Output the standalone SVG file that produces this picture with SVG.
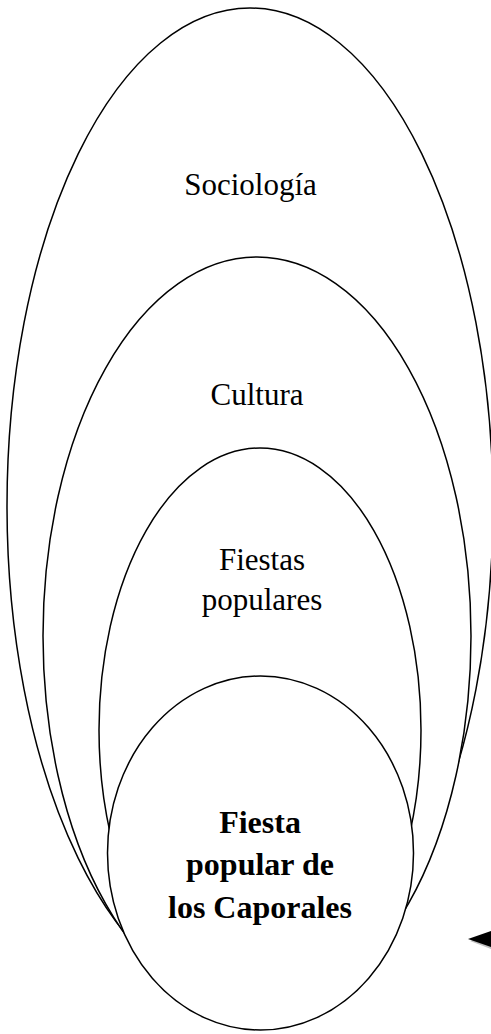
<svg xmlns="http://www.w3.org/2000/svg" width="491" height="1034" viewBox="0 0 491 1034">
<style>
.shape{fill:#fff;stroke:#000;stroke-width:1.5}
.lbl{font-family:"Liberation Serif","Times New Roman",serif;font-size:31px;fill:#000;text-anchor:middle}
.bold{font-weight:bold;font-size:32px}
</style>
<rect width="491" height="1034" fill="#fff"/>
<g id="sociologia">
<ellipse class="shape" cx="250" cy="506" rx="243" ry="498"/>
<text class="lbl" x="250.5" y="195">Sociología</text>
</g>
<g id="cultura">
<ellipse class="shape" cx="257" cy="636" rx="214" ry="379"/>
<text class="lbl" x="257" y="405">Cultura</text>
</g>
<g id="fiestas-populares">
<ellipse class="shape" cx="260" cy="730" rx="161" ry="282"/>
<text class="lbl" x="262" y="570">Fiestas</text>
<text class="lbl" x="262" y="610">populares</text>
</g>
<g id="fiesta-caporales">
<ellipse class="shape" cx="260.5" cy="853" rx="153" ry="177"/>
<text class="lbl bold" x="260" y="833">Fiesta</text>
<text class="lbl bold" x="260" y="875">popular de</text>
<text class="lbl bold" x="260" y="918">los Caporales</text>
</g>
<g id="connectors">
<polygon points="470,941 491,933 491,949" fill="#000" opacity="0.25"/>
<polygon points="468,939 491,931 491,947" fill="#000"/>
</g>
</svg>
